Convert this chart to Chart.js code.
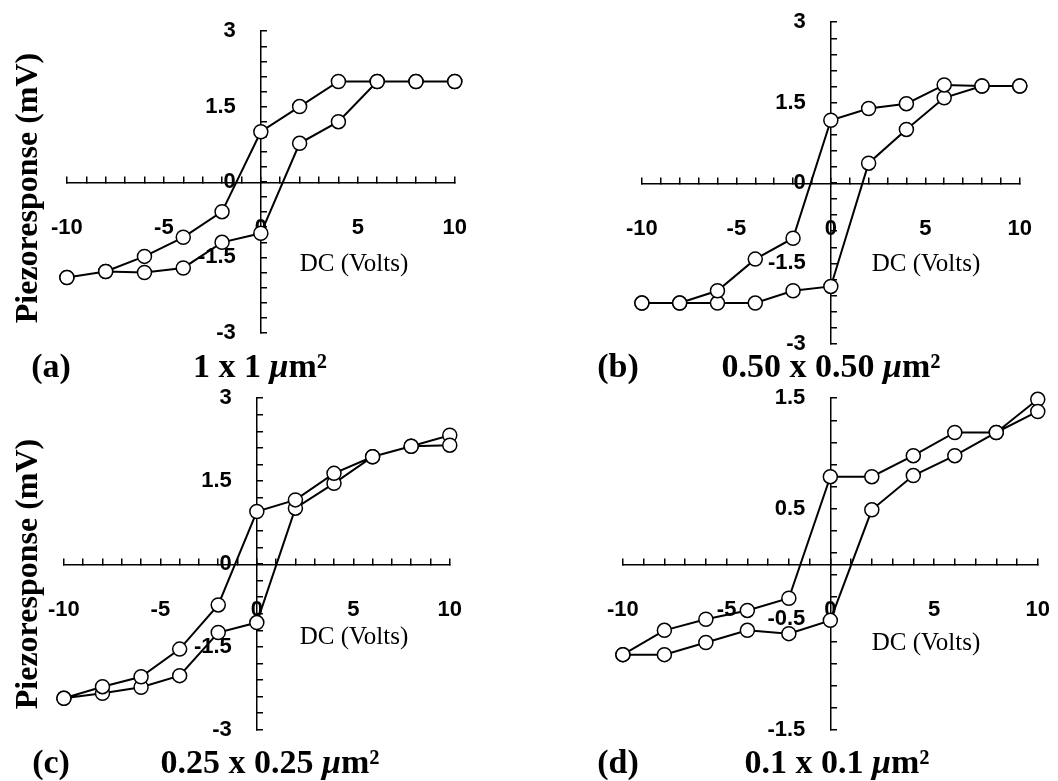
<!DOCTYPE html>
<html>
<head>
<meta charset="utf-8">
<script src="https://cdn.jsdelivr.net/npm/chart.js@4"></script>
<style>
  body { margin: 0; width: 1058px; height: 781px; background: #fff; position: relative; overflow: hidden; }
  canvas { position: absolute; }
  .t { position: absolute; transform: translate(-50%, -50%); white-space: nowrap; color: #000;
       font-family: "Liberation Serif", "Times New Roman", serif; line-height: 1; }
  .cap { font-size: 34px; font-weight: bold; }
  .dc { font-size: 25px; }
  .ytitle { font-size: 32px; font-weight: bold; transform: translate(-50%, -50%) rotate(-90deg); }
</style>
</head>
<body>
<canvas id="pa"></canvas>
<canvas id="pb"></canvas>
<canvas id="pc"></canvas>
<canvas id="pd"></canvas>

<div class="t ytitle" style="left:26px; top:188px;">Piezoresponse (mV)</div>
<div class="t ytitle" style="left:26px; top:574px;">Piezoresponse (mV)</div>

<div class="t dc" style="left:354px; top:262px;">DC (Volts)</div>
<div class="t dc" style="left:926px; top:262px;">DC (Volts)</div>
<div class="t dc" style="left:354px; top:635px;">DC (Volts)</div>
<div class="t dc" style="left:926px; top:641px;">DC (Volts)</div>

<div class="t cap" style="left:51px; top:366px;">(a)</div>
<div class="t cap" style="left:260px; top:366px;">1 x 1 <i>μ</i>m²</div>
<div class="t cap" style="left:618px; top:366px;">(b)</div>
<div class="t cap" style="left:831px; top:366px;">0.50 x 0.50 <i>μ</i>m²</div>
<div class="t cap" style="left:51px; top:762px;">(c)</div>
<div class="t cap" style="left:270px; top:762px;">0.25 x 0.25 <i>μ</i>m²</div>
<div class="t cap" style="left:618px; top:762px;">(d)</div>
<div class="t cap" style="left:837px; top:762px;">0.1 x 0.1 <i>μ</i>m²</div>

<script>
// DC bias sweep: up from -10 V, then back down from +10 V
const voltsUp = [-10, -8, -6, -4, -2, 0, 2, 4, 6, 8, 10];
const voltsDown = [10, 8, 6, 4, 2, 0, -2, -4, -6, -8, -10];

// piezoresponse (mV)
const aUp = [-1.90, -1.78, -1.80, -1.71, -1.20, -1.02, 0.77, 1.20, 2.0, 2.0, 2.0];
const aDown = [2.0, 2.0, 2.0, 2.0, 1.50, 1.0, -0.59, -1.10, -1.48, -1.78, -1.90];

const bUp = [-2.24, -2.24, -2.24, -2.24, -2.01, -1.93, 0.37, 1.0, 1.59, 1.81, 1.81];
const bDown = [1.81, 1.81, 1.83, 1.48, 1.39, 1.17, -1.03, -1.42, -2.01, -2.24, -2.24];

const cUp = [-2.43, -2.34, -2.23, -2.02, -1.24, -1.06, 1.01, 1.46, 1.94, 2.13, 2.33];
const cDown = [2.15, 2.13, 1.94, 1.64, 1.16, 0.95, -0.74, -1.54, -2.04, -2.22, -2.43];

const dUp = [-0.82, -0.82, -0.71, -0.60, -0.63, -0.51, 0.49, 0.80, 0.98, 1.19, 1.49];
const dDown = [1.38, 1.19, 1.19, 0.98, 0.79, 0.79, -0.31, -0.42, -0.50, -0.60, -0.82];

// tick labels
const xTickLabels = [-10, -5, 0, 5, 10];
const yTickLabels3 = [-3, -1.5, 0, 1.5, 3];
const yTickLabels15 = [-1.5, -0.5, 0.5, 1.5];

const PAD = 20;
const panels = [
  { id: 'pa', area: [67, 31, 455, 333], up: aUp, down: aDown, yMin: -3, yMax: 3, yStep: 0.3, yLabels: yTickLabels3 },
  { id: 'pb', area: [642, 22, 1020, 344], up: bUp, down: bDown, yMin: -3, yMax: 3, yStep: 0.3, yLabels: yTickLabels3 },
  { id: 'pc', area: [64, 398, 450, 730], up: cUp, down: cDown, yMin: -3, yMax: 3, yStep: 0.3, yLabels: yTickLabels3 },
  { id: 'pd', area: [623, 398, 1038, 730], up: dUp, down: dDown, yMin: -1.5, yMax: 1.5, yStep: 0.2, yLabels: yTickLabels15 },
];

function steps(min, max, step) {
  const out = [];
  for (let v = min; v <= max + 1e-9; v += step) out.push(Math.round(v * 1000) / 1000);
  return out;
}

const hasLabel = (list, v) => list.some((l) => Math.abs(l - v) < 1e-6);

const tickFont = { family: "'Liberation Sans', Arial, sans-serif", weight: 'bold', size: 22 };

function buildChart(canvas, p) {
  const loop = [
    ...voltsUp.map((x, i) => ({ x, y: p.up[i] })),
    ...voltsDown.map((x, i) => ({ x, y: p.down[i] })),
  ];
  const xMinor = steps(-10, 10, 1);
  const yMinor = steps(p.yMin, p.yMax, p.yStep);

  return new Chart(canvas, {
    type: 'scatter',
    data: {
      datasets: [{
        data: loop,
        showLine: true,
        borderColor: '#000',
        borderWidth: 2,
        pointRadius: 7,
        pointBackgroundColor: '#fff',
        pointBorderColor: '#000',
        pointBorderWidth: 1.5,
        clip: false,
      }],
    },
    options: {
      responsive: false,
      animation: false,
      layout: { padding: PAD },
      plugins: { legend: { display: false }, tooltip: { enabled: false } },
      scales: {
        x: {
          type: 'linear',
          position: 'center',
          min: -10,
          max: 10,
          afterBuildTicks: (s) => { s.ticks = xMinor.map((v) => ({ value: v })); },
          ticks: {
            autoSkip: false,
            maxRotation: 0,
            padding: 40,
            color: '#000',
            font: tickFont,
            callback: (v) => (hasLabel(xTickLabels, v) ? String(v) : ''),
          },
          grid: { drawOnChartArea: false, tickLength: -7, color: '#000', lineWidth: 1.5 },
          border: { color: '#000', width: 1.5 },
        },
        y: {
          type: 'linear',
          position: 'center',
          min: p.yMin,
          max: p.yMax,
          afterBuildTicks: (s) => { s.ticks = yMinor.map((v) => ({ value: v })); },
          ticks: {
            autoSkip: false,
            padding: 32,
            color: '#000',
            font: tickFont,
            callback: (v) => (hasLabel(p.yLabels, v) ? String(v) : ''),
          },
          grid: { drawOnChartArea: false, tickLength: -7, color: '#000', lineWidth: 1.5 },
          border: { color: '#000', width: 1.5 },
        },
      },
    },
  });
}

panels.forEach((p) => {
  const [l, t, r, b] = p.area;
  const canvas = document.getElementById(p.id);
  let w = r - l + 2 * PAD;
  let h = b - t + 2 * PAD;
  canvas.width = w;
  canvas.height = h;
  let chart = buildChart(canvas, p);

  // the scales keep some room for their labels; grow the canvas so the plot area lands where it should
  const ca = chart.chartArea;
  const exL = ca.left - PAD;
  const exT = ca.top - PAD;
  const exR = (w - PAD) - ca.right;
  const exB = (h - PAD) - ca.bottom;
  chart.destroy();
  w += exL + exR;
  h += exT + exB;
  canvas.width = w;
  canvas.height = h;
  canvas.style.left = (l - PAD - exL) + 'px';
  canvas.style.top = (t - PAD - exT) + 'px';
  buildChart(canvas, p);
});
</script>
</body>
</html>
